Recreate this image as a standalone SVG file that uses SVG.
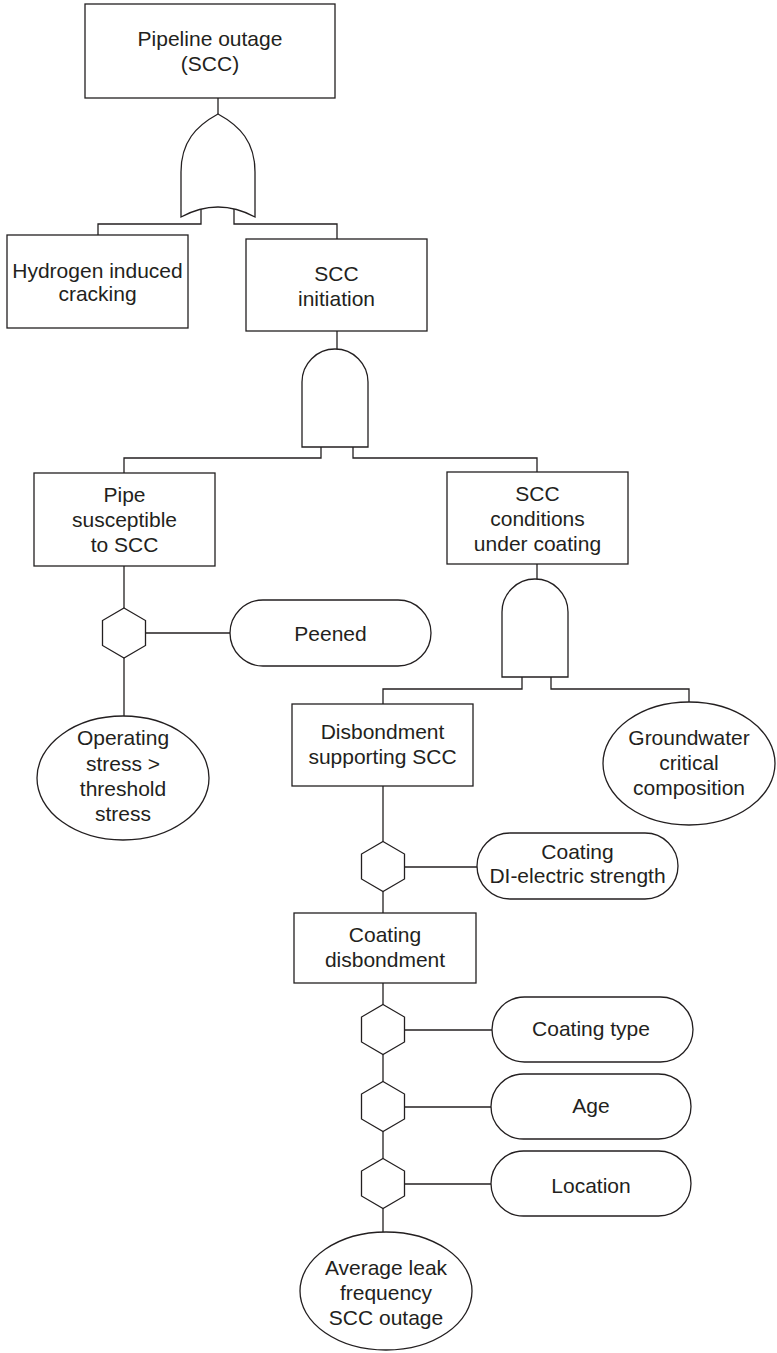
<svg xmlns="http://www.w3.org/2000/svg" width="777" height="1353" viewBox="0 0 777 1353">
  <style>
    .shape { fill: #ffffff; stroke: #231f20; stroke-width: 1.3; }
    .wire { fill: none; stroke: #231f20; stroke-width: 1.3; }
    .label { font-family: "Liberation Sans", Arial, sans-serif; font-size: 21px; fill: #231f20; text-anchor: middle; }
  </style>
  <defs>
    <!-- hexagon (inhibit/condition gate), centred on 0,0 -->
    <polygon id="hex" points="0,-25 21.5,-12.5 21.5,12.5 0,25 -21.5,12.5 -21.5,-12.5"/>
  </defs>

  <rect width="777" height="1353" fill="#ffffff"/>

  <!-- connectors -->
  <g id="connectors" class="wire">
    <!-- top event to OR gate -->
    <path d="M218,98 V114"/>
    <!-- OR gate inputs -->
    <path d="M201,209 V224 H98 V235"/>
    <path d="M234,209 V224 H337 V239"/>
    <!-- SCC initiation to AND gate -->
    <path d="M337,331 V349"/>
    <!-- AND gate inputs -->
    <path d="M321,447 V458 H124 V473"/>
    <path d="M353,447 V458 H537 V472"/>
    <!-- pipe susceptible branch -->
    <path d="M124,566 V608"/>
    <path d="M145.5,633 H230"/>
    <path d="M124,658 V716"/>
    <!-- SCC conditions to AND gate -->
    <path d="M537,564 V579"/>
    <!-- second AND gate inputs -->
    <path d="M522,677 V689 H383 V704"/>
    <path d="M551,677 V689 H689 V702"/>
    <!-- disbondment chain -->
    <path d="M383,786 V842"/>
    <path d="M404.5,867 H477"/>
    <path d="M383,891 V913"/>
    <path d="M383,983 V1005"/>
    <path d="M404.5,1030 H492"/>
    <path d="M383,1054 V1082"/>
    <path d="M404.5,1107 H491"/>
    <path d="M383,1131 V1159"/>
    <path d="M404.5,1184 H491"/>
    <path d="M383,1208 V1232"/>
  </g>

  <!-- top event -->
  <g id="pipeline-outage">
    <rect class="shape" x="85" y="4" width="250" height="94"/>
    <text class="label" x="210" y="46">Pipeline outage</text>
    <text class="label" x="210" y="71">(SCC)</text>
  </g>

  <!-- OR gate -->
  <g id="or-gate">
    <path class="shape" d="M218,114 C196,126 181,142 181,172 L181,217 Q218,197 255,217 L255,172 C255,142 240,126 218,114 Z"/>
  </g>

  <g id="hydrogen-cracking">
    <rect class="shape" x="7" y="235" width="181" height="93"/>
    <text class="label" x="97.5" y="278">Hydrogen induced</text>
    <text class="label" x="97.5" y="301">cracking</text>
  </g>

  <g id="scc-initiation">
    <rect class="shape" x="246" y="239" width="181" height="92"/>
    <text class="label" x="336.5" y="281">SCC</text>
    <text class="label" x="336.5" y="306">initiation</text>
  </g>

  <!-- AND gate under SCC initiation -->
  <g id="and-gate-1">
    <path class="shape" d="M302,447 V382 A33,33 0 0 1 368,382 V447 Z"/>
  </g>

  <g id="pipe-susceptible">
    <rect class="shape" x="34" y="473" width="181" height="93"/>
    <text class="label" x="124.5" y="502">Pipe</text>
    <text class="label" x="124.5" y="527">susceptible</text>
    <text class="label" x="124.5" y="552">to SCC</text>
  </g>

  <g id="scc-conditions">
    <rect class="shape" x="447" y="472" width="181" height="92"/>
    <text class="label" x="537.5" y="501">SCC</text>
    <text class="label" x="537.5" y="526">conditions</text>
    <text class="label" x="537.5" y="551">under coating</text>
  </g>

  <g id="hex-peened">
    <use href="#hex" class="shape" x="124" y="633"/>
  </g>

  <g id="peened">
    <rect class="shape" x="230" y="600" width="201" height="66" rx="33" ry="33"/>
    <text class="label" x="330.5" y="641">Peened</text>
  </g>

  <g id="operating-stress">
    <ellipse class="shape" cx="123" cy="778" rx="86" ry="62"/>
    <text class="label" x="123" y="745">Operating</text>
    <text class="label" x="123" y="771">stress &gt;</text>
    <text class="label" x="123" y="796">threshold</text>
    <text class="label" x="123" y="821">stress</text>
  </g>

  <!-- AND gate under SCC conditions -->
  <g id="and-gate-2">
    <path class="shape" d="M502,677 V612 A33,33 0 0 1 568,612 V677 Z"/>
  </g>

  <g id="disbondment-supporting">
    <rect class="shape" x="292" y="704" width="181" height="82"/>
    <text class="label" x="382.5" y="739">Disbondment</text>
    <text class="label" x="382.5" y="764">supporting SCC</text>
  </g>

  <g id="groundwater">
    <ellipse class="shape" cx="689" cy="763.5" rx="86" ry="61.5"/>
    <text class="label" x="689" y="745">Groundwater</text>
    <text class="label" x="689" y="770">critical</text>
    <text class="label" x="689" y="795">composition</text>
  </g>

  <g id="hex-dielectric">
    <use href="#hex" class="shape" x="383" y="866.5"/>
  </g>

  <g id="coating-dielectric">
    <rect class="shape" x="477" y="833" width="201" height="66" rx="33" ry="33"/>
    <text class="label" x="577.5" y="859">Coating</text>
    <text class="label" x="577.5" y="883">DI-electric strength</text>
  </g>

  <g id="coating-disbondment">
    <rect class="shape" x="294" y="913" width="182" height="70"/>
    <text class="label" x="385" y="942">Coating</text>
    <text class="label" x="385" y="967">disbondment</text>
  </g>

  <g id="hex-coating-type">
    <use href="#hex" class="shape" x="383" y="1029.5"/>
  </g>

  <g id="coating-type">
    <rect class="shape" x="492" y="997" width="201" height="65" rx="32.5" ry="32.5"/>
    <text class="label" x="591" y="1036">Coating type</text>
  </g>

  <g id="hex-age">
    <use href="#hex" class="shape" x="383" y="1106.5"/>
  </g>

  <g id="age">
    <rect class="shape" x="491" y="1074" width="200" height="65" rx="32.5" ry="32.5"/>
    <text class="label" x="591" y="1113">Age</text>
  </g>

  <g id="hex-location">
    <use href="#hex" class="shape" x="383" y="1183.5"/>
  </g>

  <g id="location">
    <rect class="shape" x="491" y="1151" width="200" height="65" rx="32.5" ry="32.5"/>
    <text class="label" x="591" y="1193">Location</text>
  </g>

  <g id="average-leak-frequency">
    <ellipse class="shape" cx="386" cy="1291" rx="86" ry="59"/>
    <text class="label" x="386" y="1275">Average leak</text>
    <text class="label" x="386" y="1300">frequency</text>
    <text class="label" x="386" y="1325">SCC outage</text>
  </g>
</svg>
